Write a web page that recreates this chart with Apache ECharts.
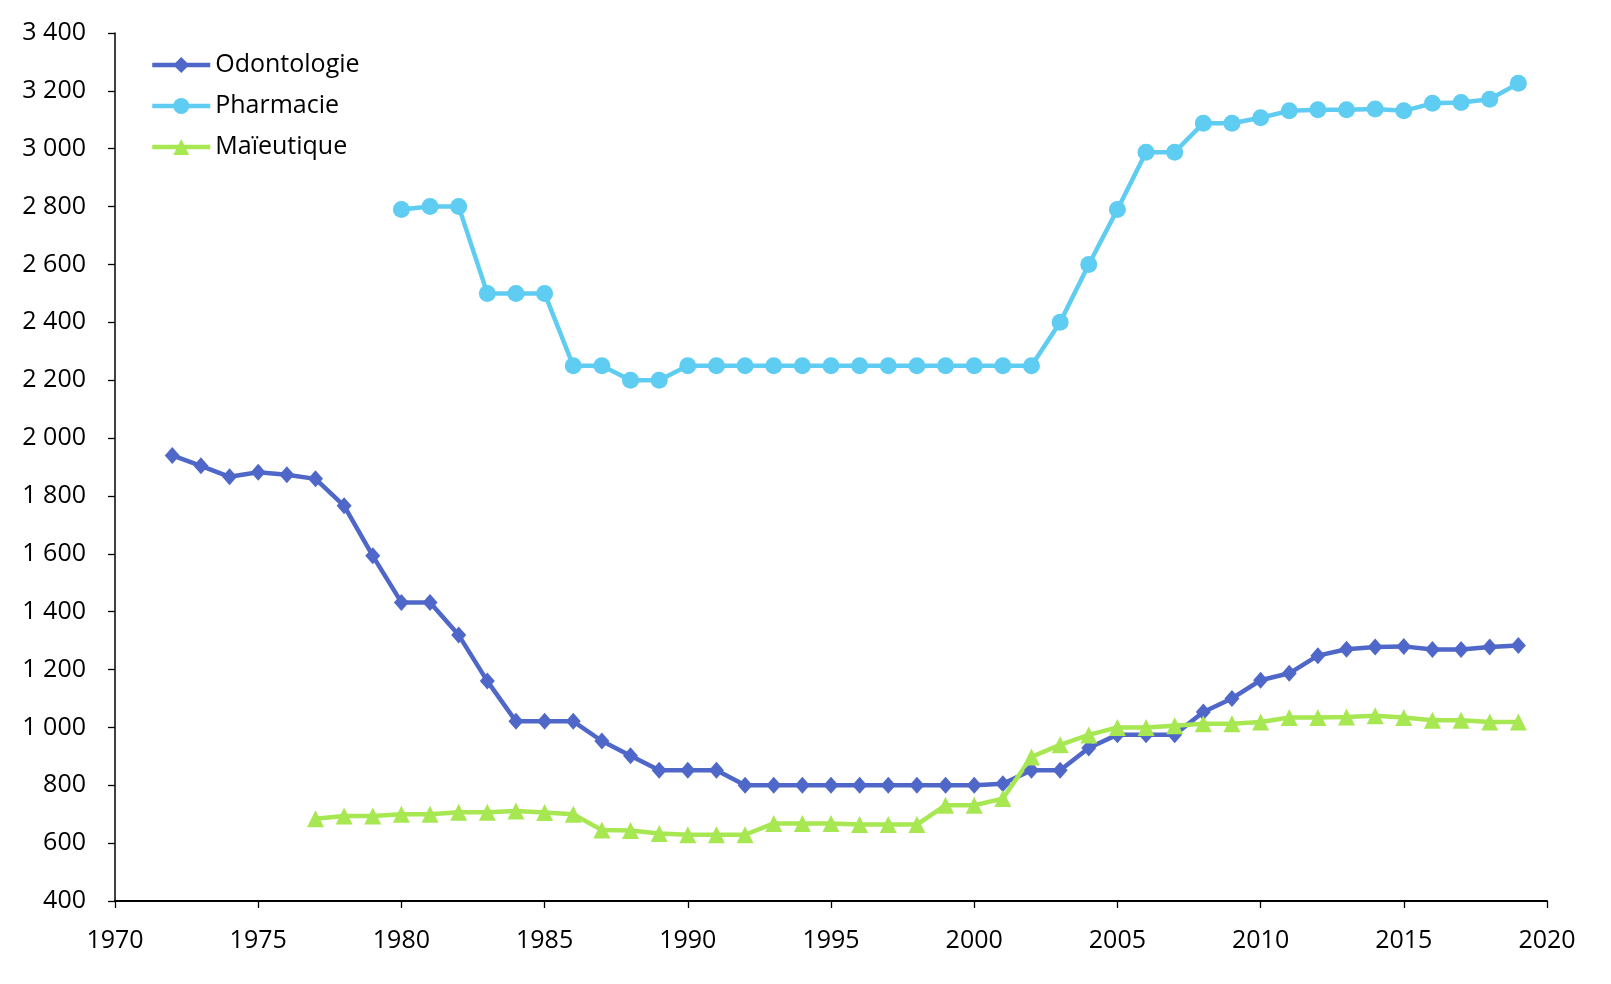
<!DOCTYPE html>
<html>
<head>
<meta charset="utf-8">
<script src="https://cdn.jsdelivr.net/npm/echarts@6/dist/echarts.min.js"></script>
<style>
html,body{margin:0;padding:0;background:#fff;}
#chart{width:1611px;height:984px;}
</style>
</head>
<body>
<div id="chart"></div>
<script>
// Data
const seriesNames = ['Odontologie', 'Pharmacie', 'Maïeutique'];
const odontoStart = 1972;
const odontologie = [1940, 1904, 1866, 1882, 1873, 1859, 1766, 1593, 1432, 1432,
  1319, 1160, 1021, 1021, 1021, 953, 902, 852, 852, 852,
  800, 800, 800, 800, 800, 800, 800, 800, 800, 805,
  852, 852, 929, 975, 975, 975, 1053, 1100, 1163, 1187,
  1248, 1270, 1278, 1280, 1269, 1269, 1278, 1283];
const pharmaStart = 1980;
const pharmacie = [2790, 2800, 2800, 2500, 2500, 2500, 2250, 2250, 2200, 2200,
  2250, 2250, 2250, 2250, 2250, 2250, 2250, 2250, 2250, 2250,
  2250, 2250, 2250, 2400, 2600, 2790, 2988, 2988, 3088, 3088,
  3107, 3131, 3135, 3135, 3137, 3131, 3157, 3160, 3171, 3226];
const maieuStart = 1977;
const maieutique = [684, 694, 694, 700, 700, 707, 707, 711, 706, 700,
  645, 644, 633, 629, 629, 629, 668, 668, 668, 664,
  664, 664, 731, 731, 754, 898, 940, 974, 1000, 1000,
  1006, 1013, 1013, 1019, 1034, 1034, 1036, 1040, 1034, 1025,
  1025, 1019, 1019];
const xMin = 1970, xMax = 2020, xStep = 5;
const yMin = 400, yMax = 3400, yStep = 200;

function pairs(start, vals) { return vals.map((v, i) => [start + i, v]); }
function fmtThousands(v) {
  if (v >= 1000) {
    const r = String(v % 1000).padStart(3, '0');
    return Math.floor(v / 1000) + ' ' + r;
  }
  return String(v);
}

const colors = ['#4F67C8', '#5FCCF2', '#A6E752'];
const font = 'Open Sans';

const chart = echarts.init(document.getElementById('chart'), null, {renderer: 'canvas'});
const mkSeries = (name, data, symbol, size, color) => ({
  name, type: 'line', data, symbol, symbolSize: size,
  lineStyle: {color, width: 4.5},
  itemStyle: {color},
  showSymbol: true, animation: false
});
chart.setOption({
  animation: false,
  color: colors,
  grid: {left: 115, right: 64, top: 33, bottom: 83, containLabel: false},
  legend: {
    orient: 'vertical', left: 145, top: 46,
    itemWidth: 58, itemHeight: 20, itemGap: 13,
    lineStyle: {width: 4.5},
    textStyle: {fontFamily: font, fontSize: 25, color: '#000', lineHeight: 28, padding: [0, 0, 0, 0]},
    data: seriesNames
  },
  xAxis: {
    type: 'value', min: xMin, max: xMax, interval: xStep,
    axisLine: {show: true, lineStyle: {color: '#000', width: 2}},
    axisTick: {show: true, length: 7, lineStyle: {color: '#000', width: 1.3}},
    splitLine: {show: false},
    axisLabel: {fontFamily: font, fontSize: 25, color: '#000', margin: 27, formatter: v => String(v)}
  },
  yAxis: {
    type: 'value', min: yMin, max: yMax, interval: yStep,
    axisLine: {show: true, lineStyle: {color: '#000', width: 1.5}},
    axisTick: {show: true, length: 7, lineStyle: {color: '#000', width: 1.3}},
    splitLine: {show: false},
    axisLabel: {fontFamily: font, fontSize: 25, color: '#000', margin: 29, formatter: v => fmtThousands(v)}
  },
  series: [
    mkSeries(seriesNames[0], pairs(odontoStart, odontologie), 'diamond', [15, 17], colors[0]),
    mkSeries(seriesNames[1], pairs(pharmaStart, pharmacie), 'circle', 17, colors[1]),
    mkSeries(seriesNames[2], pairs(maieuStart, maieutique), 'triangle', 17, colors[2])
  ]
});
</script>
</body>
</html>
